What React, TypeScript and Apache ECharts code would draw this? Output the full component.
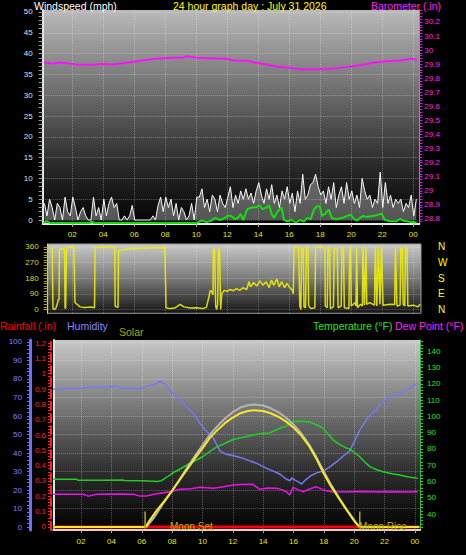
import React, { useEffect, useRef } from "react";
import * as echarts from "echarts";

// ---------- DATA ----------
// top chart: wind gust samples (mph), every 10 minutes starting 00:12
const GUST_START = 0.2;
const GUST_STEP = 1 / 6;
const gust = [
  4, 1, 5, 3, 0, 4,
  3, 0, 5.5, 2, 1, 5.5,
  3, 0, 2, 3, 1, 0,
  0, 5.5, 1, 3, 0, 5,
  1, 4, 5.5, 3, 4, 0,
  0, 1, 0, 1, 3.5, 0,
  0, 0, 0, 0, 0, 0,
  1, 0, 3.5, 5.5, 2, 5.5,
  3, 5, 1, 4, 0, 3,
  2, 0, 1, 4, 0, 5.5,
  5.5, 7.5, 3, 5, 2, 6,
  5, 2, 6, 4, 3, 5.5,
  8, 3, 6, 4, 7, 5,
  7.5, 5, 6.5, 4, 7, 9,
  6, 4, 7.5, 5, 8.5, 4,
  6, 3, 7, 5, 8, 4,
  6.5, 2, 7, 4, 11, 5,
  6, 8.5, 9, 11, 8, 6,
  7, 4, 8, 5, 9, 3,
  6, 8, 4, 9, 5, 7,
  4, 6, 3, 10, 7, 5,
  6, 3, 5, 4, 11.5, 3,
  9, 4, 6, 3, 5, 4,
  5, 2, 4, 3, 6, 1, 5,
];

// average wind (mph)
const avgHours = [0.13, 0.35, 0.56, 3.14, 3.25, 3.4, 10.02, 10.24, 10.41, 10.63, 10.99, 11.21, 11.53, 11.79, 12.07, 12.28, 12.5, 12.71, 12.86, 13.03, 13.29, 13.57, 13.89, 14.07, 14.28, 14.5, 14.71, 14.86, 15.01, 15.23, 15.51, 15.66, 15.87, 16.15, 16.43, 16.69, 16.95, 17.16, 17.38, 17.59, 17.81, 17.98, 18.11, 18.3, 18.54, 18.75, 19.06, 19.49, 19.74, 19.96, 20.13, 20.35, 20.56, 20.78, 20.99, 21.25, 21.46, 21.74, 21.96, 22.17, 22.5, 22.93, 23.14, 23.36, 23.79, 24.22];
const avgWind = [-0.7, -0.3, -0.7, -0.7, -0.3, -0.7, -0.7, -0.3, -0.1, -0.5, -0.1, 0.5, 0, 0.4, 1.1, 0.9, 0.2, 0.6, 1.5, 0, 2.6, 3.0, 3.1, 3.5, 2.6, 3.0, 3.5, 1.5, 0.5, 2.0, 3.0, 0, -0.3, 0, -0.6, 0, -0.4, 0.5, 0.2, 2.5, 3.4, 3.2, 1.0, 1.4, 2.5, 0.5, 0.2, 0.6, 1.0, 1.3, 0.5, -0.2, 0.5, 1.0, 0.7, 0.9, 1.0, 1.3, 1.5, 0, -0.3, -0.3, 0.3, -0.2, -0.4, -0.6];

// barometer (inHg)
const baroHours = [0.2, 0.78, 1.21, 2.5, 3.36, 3.79, 4.65, 5.51, 6.37, 7.23, 8.09, 9.16, 9.38, 10.24, 11.96, 12.39, 13.36, 13.68, 14.54, 15.18, 16.05, 16.69, 17.98, 18.84, 19.7, 20.56, 21.42, 22.07, 23.14, 23.89, 24.22];
const baroValues = [29.91, 29.905, 29.912, 29.895, 29.895, 29.902, 29.898, 29.91, 29.924, 29.936, 29.943, 29.948, 29.957, 29.943, 29.938, 29.926, 29.924, 29.912, 29.898, 29.881, 29.874, 29.864, 29.864, 29.869, 29.879, 29.893, 29.91, 29.919, 29.926, 29.938, 29.93];

// wind direction (degrees)
const dirHours = [0.56, 0.6, 0.7, 0.75, 0.85, 0.95, 1.05, 1.1, 1.14, 1.16, 1.3, 1.5, 1.53, 1.57, 1.62, 1.7, 1.8, 2.1, 2.17, 2.3, 2.5, 2.8, 3.2, 3.43, 3.47, 3.8, 4.2, 4.5, 4.74, 4.76, 4.85, 4.95, 4.98, 5.3, 5.9, 7.0, 7.97, 8.05, 8.3, 8.6, 8.95, 9.2, 9.6, 10.0, 10.4, 10.65, 10.78, 10.9, 11.0, 11.08, 11.1, 11.18, 11.25, 11.31, 11.38, 11.42, 11.5, 11.57, 11.64, 11.8, 12.0, 12.17, 12.4, 12.6, 12.8, 13.0, 13.25, 13.4, 13.5, 13.7, 13.9, 14.1, 14.3, 14.5, 14.7, 14.85, 15.0, 15.2, 15.35, 15.5, 15.7, 15.85, 16.0, 16.2, 16.26, 16.3, 16.37, 16.6, 16.68, 16.75, 16.8, 16.9, 16.95, 17.05, 17.1, 17.2, 17.25, 17.4, 17.65, 17.7, 18.1, 18.3, 18.32, 18.45, 18.5, 18.6, 18.65, 18.85, 18.9, 19.1, 19.15, 19.35, 19.4, 19.5, 19.55, 19.85, 19.9, 19.95, 20.0, 20.25, 20.3, 20.35, 20.4, 20.6, 20.72, 20.75, 20.85, 20.95, 21.0, 21.2, 21.5, 21.55, 21.65, 21.75, 21.85, 21.95, 22.05, 22.5, 22.8, 22.85, 22.95, 23.15, 23.2, 23.3, 23.35, 23.45, 23.5, 23.6, 23.65, 24.0, 24.3, 24.45];
const dirValues = [352, 355, 350, 5, 0, 10, 40, 60, 55, 345, 350, 348, 10, 5, 340, 355, 360, 358, 40, 30, 15, 12, 14, 10, 355, 360, 358, 362, 355, 20, 15, 12, 340, 345, 350, 355, 357, 10, 5, 8, 30, 15, 8, 10, 5, 12, 60, 110, 100, 85, 350, 340, 20, 0, 30, 350, 345, 0, 90, 110, 105, 115, 108, 120, 110, 125, 115, 160, 130, 155, 135, 165, 140, 160, 125, 170, 140, 175, 130, 160, 125, 150, 130, 110, 90, 350, 360, 355, 20, 0, 355, 350, 15, 10, 355, 360, 20, 5, 10, 355, 360, 350, 20, 10, 355, 360, 5, 15, 350, 355, 10, 20, 360, 355, 10, 5, 360, 355, 20, 40, 20, 360, 10, 30, 20, 360, 25, 360, 30, 40, 25, 360, 20, 360, 30, 355, 25, 30, 28, 355, 20, 25, 355, 350, 30, 20, 360, 355, 20, 25, 15, 30];

// bottom chart
const humHours = [0.17, 1.0, 2.0, 2.6, 3.5, 4.35, 4.6, 5.3, 5.9, 6.3, 6.8, 7.2, 7.5, 7.86, 8.3, 8.96, 9.4, 9.84, 10.3, 10.72, 11.16, 11.5, 11.82, 12.3, 12.7, 13.2, 13.58, 14.0, 14.24, 14.6, 15.12, 15.5, 15.77, 15.9, 16.08, 16.3, 16.54, 16.8, 17.2, 17.6, 17.97, 18.4, 18.85, 19.3, 19.7, 20.0, 20.37, 20.8, 21.1, 21.46, 21.8, 22.12, 22.5, 22.78, 23.1, 23.44, 23.8, 24.2];
const humValues = [74.5, 74.8, 75.0, 75.5, 75.5, 76.2, 75.2, 74.8, 74.8, 76, 77, 78.8, 77.5, 74, 70, 65, 61.5, 56, 51.5, 48, 41, 39.5, 38.9, 38, 37.1, 35.5, 34.4, 32.6, 31.7, 30.5, 28.5, 26, 25, 26.5, 25.5, 24.5, 23.2, 25.5, 28, 29.5, 30.2, 32.5, 35.3, 38.5, 41, 46, 52.4, 57.8, 61, 63.2, 67, 69.6, 70.5, 71, 72.5, 74, 76, 77.7];

const tempHours = [0.17, 1.71, 1.8, 3.5, 4.75, 4.85, 6.1, 7.0, 7.3, 7.65, 8.08, 8.5, 9.18, 9.62, 10.06, 10.5, 10.94, 11.5, 12.02, 12.5, 13.0, 13.3, 14.0, 14.4, 15.12, 15.5, 15.97, 16.3, 16.96, 17.3, 17.54, 17.95, 18.41, 18.61, 19.0, 19.51, 19.71, 20.37, 20.7, 21.03, 21.5, 21.9, 22.5, 23.0, 23.6, 24.2];
const tempValues = [61.3, 61.3, 60.7, 60.7, 60.9, 60.6, 60.4, 60.0, 60.5, 62.6, 65.5, 67.5, 71.2, 73.2, 75.5, 78.5, 81.2, 83.5, 85.8, 86.8, 87.8, 88.6, 89.6, 89.8, 92.7, 94, 96.7, 97, 96.7, 95.8, 94.7, 92.7, 87.8, 85.5, 83, 80.5, 80, 75.2, 72, 69.1, 67.2, 66, 64.8, 64, 62.8, 61.9];

const dewHours = [0.17, 2.15, 2.48, 3.03, 4.5, 5.45, 5.89, 6.33, 6.5, 6.99, 7.86, 8.52, 9.2, 9.84, 10.72, 11.3, 12.02, 12.5, 13.3, 13.78, 14.3, 14.87, 15.2, 15.53, 15.75, 15.97, 16.3, 16.63, 17.1, 17.5, 17.95, 18.5, 19.5, 20.5, 21.5, 22.5, 23.5, 24.2];
const dewValues = [52.1, 52.1, 51.0, 52.1, 52.3, 52.1, 51.0, 51.0, 51.5, 52.4, 53.7, 55.2, 55.5, 56.4, 55.8, 56.6, 57.8, 58.2, 58.3, 55.2, 56, 55.8, 55, 53.7, 51.7, 56.4, 55, 53.7, 55.5, 56.8, 54.8, 53.7, 53.5, 53.8, 53.5, 53.7, 53.6, 53.7];

const solarHours = [0.17, 6.25, 6.5, 7.0, 7.5, 8.0, 8.5, 9.0, 9.5, 10.0, 10.5, 11.0, 11.5, 12.0, 12.5, 13.0, 13.4, 14.0, 14.5, 15.0, 15.5, 16.0, 16.5, 17.0, 17.5, 18.0, 18.5, 19.0, 19.5, 20.0, 20.3, 20.4, 24.3];
const solarValues = [0, 0, 40, 110, 170, 235, 305, 375, 445, 510, 580, 630, 675, 710, 738, 752, 758, 752, 738, 715, 685, 645, 595, 530, 445, 345, 260, 185, 110, 40, 5, 0, 0];

const solarMaxHours = [6.3, 6.8, 7.5, 8.0, 8.5, 9.0, 9.5, 10.0, 10.5, 11.0, 11.5, 12.0, 12.5, 13.0, 13.4, 14.0, 14.5, 15.0, 15.5, 16.0, 16.5, 17.0, 17.5, 18.0, 18.5, 19.0, 19.5, 20.0, 20.3, 20.4];
const solarMaxValues = [0, 60, 165, 235, 310, 385, 460, 530, 600, 655, 705, 745, 775, 790, 794, 788, 770, 745, 710, 665, 610, 540, 455, 360, 270, 190, 115, 45, 5, 0];

const rainHours = [0.17, 24.3];
const rainValues = [0, 0];

const SUNRISE = 6.22;
const SUNSET = 20.37;
const MARK_HEIGHT = [-10, 100];

const TITLE = "24 hour graph day : July 31 2026";

// ---------- helpers ----------
const steps = (a: number, b: number, s: number) => {
  const out: number[] = [];
  for (let v = a; v <= b + 1e-9; v += s) out.push(Math.round(v * 1000) / 1000);
  return out;
};
const pair = (xs: number[], ys: number[]) => xs.map((x, i) => [x, ys[i]]);
const FONT = "Liberation Sans, Arial, sans-serif";
const TFONT = `10.5px ${FONT}`;
const hourFmt = (v: number) => String(Math.round(v) % 24).padStart(2, "0");
const dec = (v: number) => String(Math.round(v * 10) / 10);
const dotted = (c = "rgba(255,255,255,0.3)") => ({ show: true, lineStyle: { type: "dotted" as const, color: c, width: 1 } });

const evenHours = steps(2, 24, 2);

const grad = (stops: [number, string][]) =>
  new echarts.graphic.LinearGradient(0, 0, 0, 1, stops.map(([o, c]) => ({ offset: o, color: c })));

function buildOption() {
  const lineS = (name: string, data: any, x: number, y: number, color: string, width: number, extra: any = {}) => ({
    name, type: "line", data, xAxisIndex: x, yAxisIndex: y, showSymbol: false, symbol: "none",
    lineStyle: { color, width }, ...extra,
  });
  const gustData = gust.map((v, i) => [GUST_START + i * GUST_STEP, v]);

  return {
    animation: false,
    backgroundColor: "#000",
    textStyle: { fontFamily: FONT },
    grid: [
      { left: 42.7, top: 10, width: 376.6, height: 214, show: true, borderWidth: 0, outerBoundsMode: "none",
        backgroundColor: grad([[0, "#bababa"], [0.4, "#6a6a6a"], [0.7, "#2e2e2e"], [1, "#020202"]]) },
      { left: 47.7, top: 244, width: 373.3, height: 69.3, show: true, borderWidth: 1, borderColor: "#9a9a9a", outerBoundsMode: "none",
        backgroundColor: grad([[0, "#cacaca"], [0.5, "#7a7a7a"], [1, "#141414"]]) },
      { left: 53.3, top: 340, width: 366.7, height: 190, show: true, borderWidth: 0, outerBoundsMode: "none",
        backgroundColor: grad([[0, "#c8c8c8"], [0.4, "#6e6e6e"], [0.7, "#2c2c2c"], [1, "#020202"]]) },
    ],
    xAxis: [
      { type: "value", gridIndex: 0, min: 0.09, max: 24.39,
        axisLine: { show: true, onZero: false, lineStyle: { color: "#e8e8e8", width: 2 } },
        axisTick: { show: true, customValues: evenHours, length: 3, lineStyle: { color: "#aaaaaa" } },
        axisLabel: { customValues: evenHours, formatter: hourFmt, color: "#e8e800", fontSize: 8, fontFamily: FONT, margin: 6 },
        splitLine: dotted() },
      { type: "value", gridIndex: 1, min: 0.41, max: 24.5,
        axisLine: { show: false, onZero: false },
        axisTick: { show: false, customValues: evenHours },
        axisLabel: { show: false },
        splitLine: dotted("rgba(255,255,255,0.25)") },
      { type: "value", gridIndex: 2, min: 0.17, max: 24.34,
        axisLine: { show: true, onZero: false, lineStyle: { color: "#d8d8d8", width: 2 } },
        axisTick: { show: true, customValues: evenHours, length: 3, lineStyle: { color: "#aaaaaa" } },
        axisLabel: { customValues: evenHours, formatter: hourFmt, color: "#e8e800", fontSize: 8, fontFamily: FONT, margin: 7 },
        splitLine: dotted() },
    ],
    yAxis: [
      // 0 wind
      { type: "value", gridIndex: 0, position: "left", min: -0.96, max: 50.48,
        axisLine: { show: true, onZero: false, lineStyle: { color: "#e8e8e8", width: 2 } },
        axisTick: { show: true, customValues: steps(0, 50, 1), length: 4, lineStyle: { color: "#9a9a9a" } },
        axisLabel: { customValues: steps(0, 50, 5), color: "#d0e4ff", fontSize: 8, fontFamily: FONT, margin: 10 },
        splitLine: { show: false } },
      // 1 wind grid
      { type: "value", gridIndex: 0, position: "left", min: -0.96, max: 50.48,
        axisLine: { show: false }, axisTick: { show: false, customValues: steps(0, 50, 5) },
        axisLabel: { show: false }, splitLine: dotted() },
      // 2 barometer
      { type: "value", gridIndex: 0, position: "right", min: 28.764, max: 30.285,
        axisLine: { show: true, onZero: false, lineStyle: { color: "#a0a0a0", width: 1 } },
        axisTick: { show: true, customValues: steps(28.78, 30.28, 0.02), length: 3, lineStyle: { color: "#ff00ff" } },
        axisLabel: { customValues: steps(28.8, 30.2, 0.1), formatter: dec, color: "#ff22ff", fontSize: 8, fontFamily: FONT, margin: 5 },
        splitLine: { show: false } },
      // 3 direction
      { type: "value", gridIndex: 1, position: "left", min: -22, max: 377,
        axisLine: { show: true, onZero: false, lineStyle: { color: "#cfcfcf", width: 1 } },
        axisTick: { show: true, customValues: steps(0, 360, 15), length: 4, lineStyle: { color: "#a8a800" } },
        axisLabel: { customValues: steps(0, 360, 90), color: "#d8d820", fontSize: 8, fontFamily: FONT, margin: 9 },
        splitLine: { show: false } },
      // 4 compass letters
      { type: "value", gridIndex: 1, position: "right", min: -22, max: 377,
        axisLine: { show: false }, axisTick: { show: false, customValues: steps(0, 360, 90) },
        axisLabel: { customValues: steps(0, 360, 90), formatter: (v: number) => ({ 0: "N", 90: "E", 180: "S", 270: "W", 360: "N" } as any)[Math.round(v)],
          color: "#ffff00", fontSize: 10, fontFamily: FONT, margin: 17 },
        splitLine: dotted("rgba(255,255,255,0.25)") },
      // 5 humidity
      { type: "value", gridIndex: 2, position: "left", offset: 23.3, min: -1.62, max: 101.08,
        axisLine: { show: true, onZero: false, lineStyle: { color: "#6e6eff", width: 3 } },
        axisTick: { show: true, customValues: steps(0, 100, 2), length: 3, lineStyle: { color: "#7070ff" } },
        axisLabel: { customValues: steps(0, 100, 10), color: "#8080ff", fontSize: 8, fontFamily: FONT, margin: 8 },
        splitLine: { show: false } },
      // 6 humidity grid + plot left border
      { type: "value", gridIndex: 2, position: "left", min: -1.62, max: 101.08,
        axisLine: { show: true, onZero: false, lineStyle: { color: "#e0e0e0", width: 2 } },
        axisTick: { show: false, customValues: steps(0, 100, 10) },
        axisLabel: { show: false }, splitLine: dotted() },
      // 7 rainfall
      { type: "value", gridIndex: 2, position: "left", offset: 2.3, min: -0.0196, max: 1.2196,
        axisLine: { show: true, onZero: false, lineStyle: { color: "#ff2020", width: 2, type: "dashed" } },
        axisTick: { show: true, customValues: steps(0, 1.2, 0.02), length: 3, lineStyle: { color: "#ff2020" } },
        axisLabel: { customValues: steps(0, 1.2, 0.1), formatter: dec, color: "#ff2020", fontSize: 8, fontFamily: FONT, margin: 5 },
        splitLine: { show: false } },
      // 8 temperature / dew point
      { type: "value", gridIndex: 2, position: "right", min: 30.17, max: 146.95,
        axisLine: { show: true, onZero: false, lineStyle: { color: "#20c020", width: 1 } },
        axisTick: { show: true, customValues: steps(32, 146, 2), length: 3, lineStyle: { color: "#20d020" } },
        axisLabel: { customValues: steps(40, 140, 10), color: "#22e622", fontSize: 8, fontFamily: FONT, margin: 7 },
        splitLine: { show: false } },
      // 9 solar (hidden)
      { type: "value", gridIndex: 2, show: false, min: -19.5, max: 1213, splitLine: { show: false } },
    ],
    series: [
      lineS("Gust", gustData, 0, 0, "#f8f8f8", 1, { areaStyle: { color: "rgba(215,215,215,0.55)" } }),
      lineS("Wind", pair(avgHours, avgWind), 0, 0, "#10e010", 2),
      lineS("Barometer", pair(baroHours, baroValues), 0, 2, "#ff10ff", 2),
      lineS("Direction", pair(dirHours, dirValues), 1, 3, "rgba(238,238,0,0.9)", 1.5),
      lineS("Rainfall", pair(rainHours, rainValues), 2, 7, "#ff0000", 3),
      lineS("Humidity", pair(humHours, humValues), 2, 5, "#7878f4", 1.5),
      lineS("Temperature", pair(tempHours, tempValues), 2, 8, "#20d020", 1.5),
      lineS("Dew Point", pair(dewHours, dewValues), 2, 8, "#ee10ee", 1.5),
      lineS("Solar max", pair(solarMaxHours, solarMaxValues), 2, 9, "#b4b4b4", 2),
      lineS("Solar", pair(solarHours, solarValues), 2, 9, "#f4e828", 2),
      lineS("Sunrise", [[SUNRISE, MARK_HEIGHT[0]], [SUNRISE, MARK_HEIGHT[1]]], 2, 9, "#b0b000", 1.5),
      lineS("Sunset", [[SUNSET, MARK_HEIGHT[0]], [SUNSET, MARK_HEIGHT[1]]], 2, 9, "#b0b000", 1.5),
    ],
    graphic: [
      { type: "text", x: 34, y: 0, style: { text: "Windspeed (mph)", fill: "#ffffff", font: TFONT } },
      { type: "text", x: 173, y: 0, style: { text: TITLE, fill: "#ffff00", font: TFONT } },
      { type: "text", x: 371, y: 0, style: { text: "Barometer (.in)", fill: "#ff22ff", font: TFONT } },
      { type: "text", x: 0, y: 320, style: { text: "Rainfall (.in)", fill: "#ff0000", font: TFONT } },
      { type: "text", x: 67, y: 320, style: { text: "Humidity", fill: "#8888ff", font: TFONT } },
      { type: "text", x: 119, y: 326, style: { text: "Solar", fill: "#a8a800", font: TFONT } },
      { type: "text", x: 313, y: 320, style: { text: "Temperature (°F)", fill: "#22e622", font: TFONT } },
      { type: "text", x: 395, y: 320, style: { text: "Dew Point (°F)", fill: "#ff22ff", font: TFONT } },
      { type: "text", x: 170, y: 521, z: 100, style: { text: "Moon Set", fill: "#b8b800", font: `10px ${FONT}` } },
      { type: "text", x: 359, y: 521, z: 100, style: { text: "Moon Rise", fill: "#b8b800", font: `10px ${FONT}` } },
    ],
  };
}

export default function App() {
  const ref = useRef<HTMLDivElement>(null);
  useEffect(() => {
    if (!ref.current) return;
    const chart = echarts.init(ref.current, null, { renderer: "svg" });
    chart.setOption(buildOption() as any);
    return () => chart.dispose();
  }, []);
  return (
    <div style={{ position: "fixed", left: 0, top: 0, width: 466, height: 555, background: "#000" }}>
      <div ref={ref} style={{ width: 466, height: 555 }} />
    </div>
  );
}
